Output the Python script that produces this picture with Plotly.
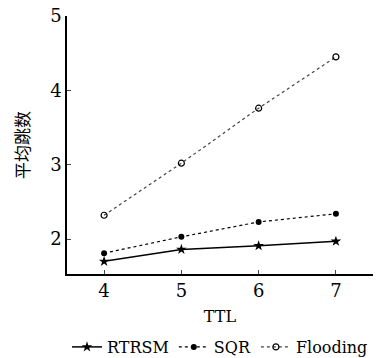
import plotly.graph_objects as go

ttl = [4, 5, 6, 7]
rtrsm = [1.70, 1.86, 1.91, 1.97]
sqr = [1.81, 2.03, 2.23, 2.34]
flooding = [2.32, 3.02, 3.76, 4.45]
y_ticks = [2, 3, 4, 5]

serif = "'DejaVu Serif', 'Liberation Serif', 'Times New Roman', serif"

fig = go.Figure()
fig.add_trace(go.Scatter(x=ttl, y=rtrsm, name="RTRSM", mode="lines+markers",
                         line=dict(color="black", width=1.5),
                         marker=dict(symbol="star", size=8, color="black")))
fig.add_trace(go.Scatter(x=ttl, y=sqr, name="SQR", mode="lines+markers",
                         line=dict(color="black", width=1.2, dash="dot"),
                         marker=dict(symbol="circle", size=6, color="black")))
fig.add_trace(go.Scatter(x=ttl, y=flooding, name="Flooding", mode="lines+markers",
                         line=dict(color="#444", width=1.2, dash="dot"),
                         marker=dict(symbol="circle-open", size=6, color="black",
                                     line=dict(width=1.2))))

fig.update_layout(
    width=381, height=358,
    margin=dict(l=67, r=8, t=16, b=84, autoexpand=False),
    plot_bgcolor="white", paper_bgcolor="white",
    font=dict(family=serif, size=16, color="black"),
    showlegend=True,
    legend=dict(orientation="h", x=0.5, xanchor="center",
                yref="container", y=1 - 347 / 358, yanchor="middle",
                font=dict(family=serif, size=16),
                tracegroupgap=0, bgcolor="rgba(0,0,0,0)"),
)
fig.update_xaxes(range=[3.52, 7.48], tickvals=ttl, ticks="inside", ticklen=4,
                 showline=True, linecolor="black", linewidth=1.5, showgrid=False,
                 zeroline=False, automargin=False,
                 title=dict(text="TTL", font=dict(family=serif, size=16), standoff=10),
                 tickfont=dict(family=serif, size=18))
fig.update_yaxes(range=[1.53, 5], tickvals=y_ticks, ticks="inside", ticklen=4,
                 showline=True, linecolor="black", linewidth=1.5, showgrid=False,
                 zeroline=False, automargin=False,
                 title=dict(text="平均跳数", font=dict(family="Noto Sans CJK SC", size=17), standoff=16),
                 tickfont=dict(family=serif, size=18))

fig.write_html("out.html")
